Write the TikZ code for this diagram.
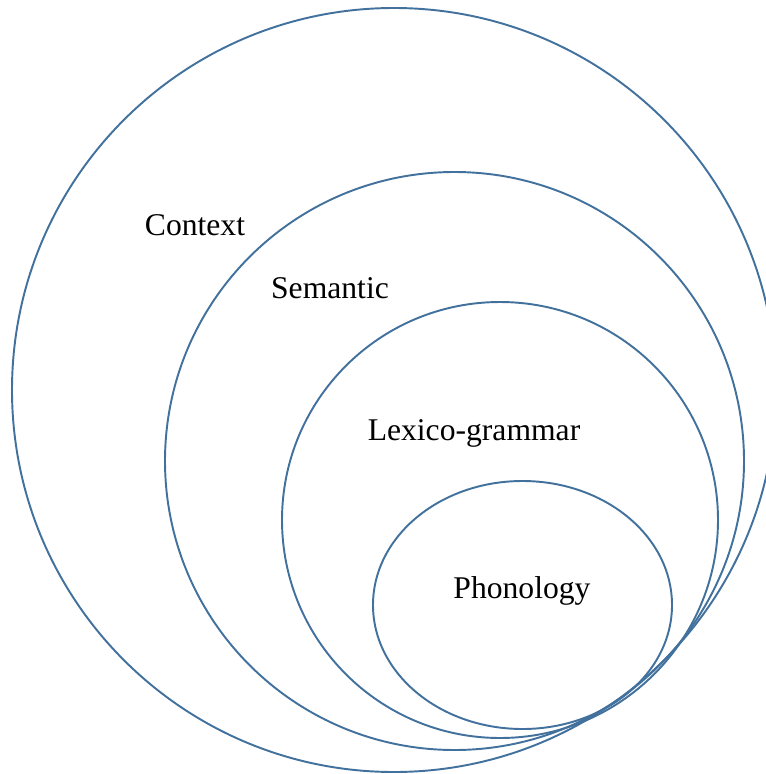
\documentclass[tikz,border=0pt]{standalone}
\usepackage{fontspec}
\setmainfont{Liberation Serif}
\definecolor{ringblue}{HTML}{41719C}
\tikzset{
  ring/.style={draw=ringblue, line width=1.1pt},
  layer/.style={anchor=base, inner sep=0pt, font=\fontsize{18}{21}\selectfont}
}
\begin{document}
\begin{tikzpicture}[x=0.02cm, y=-0.02cm]
  \useasboundingbox (0,0) rectangle (766,774);
  % nested strata, outermost first
  \draw[ring] (394,390) ellipse [x radius=382, y radius=382];   % context
  \draw[ring] (454.5,461) ellipse [x radius=289.5, y radius=289]; % semantic
  \draw[ring] (500,520) ellipse [x radius=218, y radius=218];   % lexico-grammar
  \draw[ring] (522.5,605) ellipse [x radius=149.5, y radius=124]; % phonology
  % labels
  \node[layer] (context) at (195,235) {Context};
  \node[layer] (semantic) at (330,298) {Semantic};
  \node[layer] (lexgram) at (474,440) {Lexico-grammar};
  \node[layer] (phono) at (522,598) {Phonology};
\end{tikzpicture}
\end{document}
